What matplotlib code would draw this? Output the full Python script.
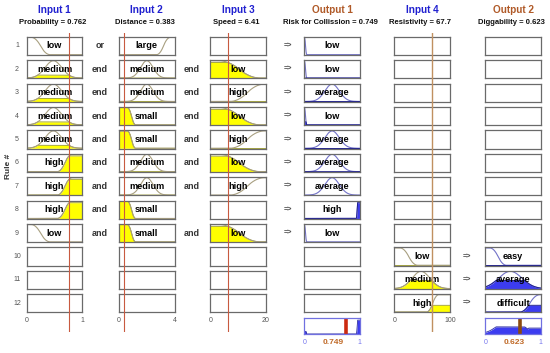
import numpy as np
import matplotlib
matplotlib.use("Agg")
import matplotlib.pyplot as plt

W, H = 550, 353
FONT = "Liberation Sans"

# ---------------- data ----------------
col_titles = ["Input 1", "Input 2", "Input 3", "Output 1", "Input 4", "Output 2"]
col_vars = ["Probability = 0.762", "Distance = 0.383", "Speed = 6.41",
            "Risk for Collission = 0.749", "Resistivity = 67.7", "Diggability = 0.623"]
col_is_output = [False, False, False, True, False, True]
col_ranges = [(0, 1), (0, 4), (0, 20), (0, 1), (0, 100), (0, 1)]
col_tick_labels = [["0", "1"], ["0", "4"], ["0", "20"], ["0", "1"], ["0", "100"], ["0", "1"]]
col_values = [0.762, 0.383, 6.41, 0.749, 67.7, 0.623]
out_value_labels = ["0.749", "0.623"]

rules_in1 = ["low", "medium", "medium", "medium", "medium", "high", "high", "high", "low", None, None, None]
rules_in2 = ["large", "medium", "medium", "small", "small", "medium", "medium", "small", "small", None, None, None]
rules_in3 = [None, "low", "high", "low", "high", "low", "high", None, "low", None, None, None]
rules_out1 = ["low", "low", "average", "low", "average", "average", "average", "high", "low", None, None, None]
rules_in4 = [None] * 9 + ["low", "medium", "high"]
rules_out2 = [None] * 9 + ["easy", "average", "difficult"]
conn_a = ["or", "end", "end", "end", "and", "and", "and", "and", "and", "", "", ""]
conn_b = ["", "end", "end", "end", "and", "and", "and", "", "and", "", "", ""]
rule_ops = ["or"] + ["and"] * 11

# membership function parameters per column: (type, p1, p2)
mf_in1 = {"low": ("z", 0.08, 0.42), "medium": ("g", 0.48, 0.15), "high": ("s", 0.55, 0.82)}
mf_in2 = {"small": ("z", 0.6, 1.2), "medium": ("g", 2.0, 0.45), "large": ("s", 2.7, 3.7)}
mf_in3 = {"low": ("z", 3.0, 18.0), "high": ("s", 7.0, 19.5)}
mf_out1 = {"low": ("z", 0.0, 0.045), "average": ("g", 0.5, 0.13), "high": ("s", 0.935, 0.965)}
mf_in4 = {"low": ("z", 10.0, 42.0), "medium": ("g", 48.0, 16.0), "high": ("s", 58.0, 80.0)}
mf_out2 = {"easy": ("z", 0.08, 0.38), "average": ("g", 0.45, 0.21), "difficult": ("s", 0.62, 0.98)}

# ---------------- helpers ----------------
def smf(x, a, b):
    x = np.asarray(x, float)
    m = (a + b) / 2
    y = np.where(x <= a, 0.0,
        np.where(x <= m, 2 * ((x - a) / (b - a)) ** 2,
        np.where(x <= b, 1 - 2 * ((x - b) / (b - a)) ** 2, 1.0)))
    return y

def mf_eval(spec, x):
    t, p1, p2 = spec
    if t == "g":
        return np.exp(-((np.asarray(x, float) - p1) ** 2) / (2 * p2 ** 2))
    if t == "s":
        return smf(x, p1, p2)
    return 1 - smf(x, p1, p2)

W_BOX = 55.6
col_x = [26.7, 119.0, 210.3, 304.3, 394.3, 485.3]
row_top0, row_step, row_h = 36.8, 23.4, 18.2
agg_top, agg_h = 318.0, 16.0

fig = plt.figure(figsize=(W / 100, H / 100), dpi=100)

def px_axes(x, y, w, h):
    return fig.add_axes([x / W, 1 - (y + h) / H, w / W, h / H])

def ftext(x, y, s, **kw):
    kw.setdefault("ha", "center")
    kw.setdefault("va", "center")
    kw.setdefault("family", FONT)
    fig.text(x / W, 1 - y / H, s, **kw)

in_line = "#a89f80"
in_fill = "#ffff00"
in_fill_edge = "#9a9a20"
out_line = "#7272c8"
out_fill = "#3c3cf0"
box_edge = "#6a6a6a"

in_cols = {0: (rules_in1, mf_in1), 1: (rules_in2, mf_in2), 2: (rules_in3, mf_in3), 4: (rules_in4, mf_in4)}
strengths = []
for r in range(12):
    degs = []
    for c in (0, 1, 2, 4):
        terms, mfs = in_cols[c]
        if terms[r] is not None:
            degs.append(float(mf_eval(mfs[terms[r]], col_values[c])))
    if not degs:
        strengths.append(0.0)
    elif rule_ops[r] == "or":
        strengths.append(max(degs))
    else:
        strengths.append(min(degs))

all_cols = [(rules_in1, mf_in1), (rules_in2, mf_in2), (rules_in3, mf_in3),
            (rules_out1, mf_out1), (rules_in4, mf_in4), (rules_out2, mf_out2)]

for c in range(6):
    lo, hi = col_ranges[c]
    xs = np.linspace(lo, hi, 600)
    terms, mfs = all_cols[c]
    for r in range(12):
        y0 = row_top0 + r * row_step
        ax = px_axes(col_x[c], y0, W_BOX, row_h)
        ax.set_xlim(lo, hi)
        ax.set_ylim(-0.02, 1.03)
        ax.set_xticks([]); ax.set_yticks([])
        for sp in ax.spines.values():
            sp.set_color(box_edge); sp.set_linewidth(0.9)
        term = terms[r]
        if term is not None:
            mu = mf_eval(mfs[term], xs)
            if col_is_output[c]:
                lvl = strengths[r]
                ax.fill_between(xs, 0, np.minimum(mu, lvl), color=out_fill, lw=0)
                ax.plot(xs, mu, color=out_line, lw=0.8)
                ax.plot(xs, np.minimum(mu, lvl), color="#1e1e90", lw=0.7)
            else:
                lvl = float(mf_eval(mfs[term], col_values[c]))
                ax.fill_between(xs, 0, np.minimum(mu, lvl), color=in_fill, lw=0)
                ax.plot(xs, np.minimum(mu, lvl), color=in_fill_edge, lw=0.6)
                ax.plot(xs, mu, color=in_line, lw=0.8)
            ax.text(0.5, 0.5, term, transform=ax.transAxes, ha="center", va="center",
                    family=FONT, fontweight="bold", fontsize=6.6, color="black")
        if r == 11 and not col_is_output[c]:
            ax.set_xticks([lo, hi])
            ax.set_xticklabels(col_tick_labels[c], family=FONT, fontsize=5, color="#555555")
            ax.tick_params(axis="x", length=0, pad=3.5)

    if col_is_output[c]:
        ax = px_axes(col_x[c], agg_top, W_BOX, agg_h)
        ax.set_xlim(lo, hi)
        ax.set_ylim(0, 1.05)
        ax.set_yticks([])
        for sp in ax.spines.values():
            sp.set_color("#7070e0"); sp.set_linewidth(0.9)
        agg = np.zeros_like(xs)
        for r in range(12):
            if terms[r] is not None:
                agg = np.maximum(agg, np.minimum(mf_eval(mfs[terms[r]], xs), strengths[r]))
        ax.fill_between(xs, 0, agg, color=out_fill, lw=0)
        ax.plot(xs, agg, color="#2a2aa0", lw=0.6)
        bar_col = "#cc2a10" if c == 3 else "#8b4a10"
        ax.axvline(col_values[c], color=bar_col, lw=2.6)
        ax.set_xticks([lo, hi])
        ax.set_xticklabels(col_tick_labels[c], family=FONT, fontsize=5, color="#7777ee")
        ax.tick_params(axis="x", length=0, pad=3.5)
        vl = out_value_labels[0] if c == 3 else out_value_labels[1]
        ftext(col_x[c] + W_BOX * 0.52, 342, vl, fontsize=6, fontweight="bold", color="#c06a28")

    cx = col_x[c] + W_BOX / 2
    ftext(cx, 10, col_titles[c], fontsize=7.2, fontweight="bold",
          color="#b05a28" if col_is_output[c] else "#2020d0")
    ftext(cx - 2, 23, col_vars[c], fontsize=5.5, fontweight="bold", color="#111111")

for c, colr, lw in [(0, "#c85a40", 0.8), (1, "#c85a40", 0.8), (2, "#c85a40", 0.8), (4, "#c09060", 1.0)]:
    lo, hi = col_ranges[c]
    ov = px_axes(col_x[c], 33, W_BOX, 299)
    ov.set_xlim(lo, hi)
    ov.set_ylim(0, 1)
    ov.axis("off")
    ov.patch.set_alpha(0)
    ov.axvline(col_values[c], color=colr, lw=lw)

for r in range(12):
    yc = row_top0 + r * row_step + row_h / 2
    ftext(17, yc, str(r + 1), fontsize=5, color="#555555")
    if conn_a[r]:
        ftext(100, yc, conn_a[r], fontsize=6.5, fontweight="bold", color="#333333")
    if conn_b[r]:
        ftext(192, yc, conn_b[r], fontsize=6.5, fontweight="bold", color="#333333")
    if rules_out1[r] is not None:
        ftext(288, yc, "=>", fontsize=5.2, fontweight="bold", color="#444444")
    if rules_out2[r] is not None:
        ftext(467, yc, "=>", fontsize=5.2, fontweight="bold", color="#444444")

ftext(8, 166, "Rule #", fontsize=6, fontweight="bold", color="#333333", rotation=90)

fig.savefig("out.png", dpi=100)
